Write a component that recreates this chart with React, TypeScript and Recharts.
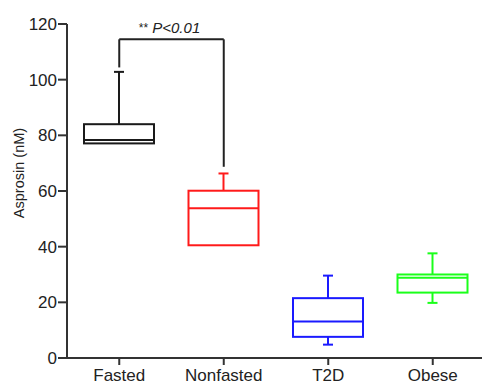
import { ComposedChart, Bar, XAxis, YAxis, ReferenceLine } from "recharts"

const groups = ["Fasted", "Nonfasted", "T2D", "Obese"]
const mins = [77.1, 40.5, 4.8, 19.8]
const q1s = [77.1, 40.5, 7.6, 23.5]
const medians = [78.3, 53.8, 13.1, 28.8]
const q3s = [84.0, 60.1, 21.5, 30.0]
const maxs = [102.8, 66.3, 29.6, 37.6]
const colors = ["#1a1a1a", "#ff1a1a", "#1a1aff", "#1aff1a"]
const yTicks = [0, 20, 40, 60, 80, 100, 120]

// significance bracket between Fasted and Nonfasted
const bracketTop = 114.5
const bracketLeftEnd = 104.4
const bracketRightEnd = 68.7
const sigStars = "**"
const sigText = "P<0.01"

const FONT = "'Liberation Sans', Arial, sans-serif"
const AXIS = "#333"

const data = groups.map((g, i) => ({
  name: g,
  min: mins[i],
  q1: q1s[i],
  median: medians[i],
  q3: q3s[i],
  max: maxs[i],
  color: colors[i],
  range: [mins[i], maxs[i]],
}))

function BoxShape(props: any) {
  const { x, y, width, height, payload } = props
  const top = Math.min(y, y + height)
  const h = Math.abs(height)
  const k = h / (payload.max - payload.min)
  const py = (v: number) => top + (payload.max - v) * k
  const cx = x + width / 2
  const cap = 5
  const c = payload.color
  return (
    <g stroke={c} strokeWidth={2} fill="none">
      <line x1={cx} x2={cx} y1={py(payload.max)} y2={py(payload.q3)} />
      <line x1={cx - cap} x2={cx + cap} y1={py(payload.max)} y2={py(payload.max)} />
      {payload.min < payload.q1 && (
        <>
          <line x1={cx} x2={cx} y1={py(payload.q1)} y2={py(payload.min)} />
          <line x1={cx - cap} x2={cx + cap} y1={py(payload.min)} y2={py(payload.min)} />
        </>
      )}
      <rect x={x} y={py(payload.q3)} width={width} height={py(payload.q1) - py(payload.q3)} />
      <line x1={x} x2={x + width} y1={py(payload.median)} y2={py(payload.median)} />
    </g>
  )
}

function SigLabel(props: any) {
  const vb = props.viewBox || {}
  const x1 = vb.x1 ?? vb.x
  const x2 = vb.x2 ?? vb.x + (vb.width || 0)
  const yy = vb.y1 ?? vb.y
  return (
    <text x={(x1 + x2) / 2 - 2} y={yy - 6} textAnchor="middle" fontFamily={FONT} fontSize={15} fill="#222">
      <tspan fontSize={12} dy={-1}>{sigStars}</tspan>
      <tspan dy={1}> </tspan>
      <tspan fontStyle="italic">{sigText}</tspan>
    </text>
  )
}

function YLabel(props: any) {
  const vb = props.viewBox || { x: 0, y: 24, width: 67, height: 334 }
  const cy = vb.y + vb.height / 2 - 18
  const bx = 23.5
  return (
    <text x={bx} y={cy} transform={`rotate(-90 ${bx} ${cy})`} textAnchor="middle" fontFamily={FONT} fontSize={14.5} fill="#222">
      Asprosin (nM)
    </text>
  )
}

export default function App() {
  return (
    <div style={{ position: "absolute", left: 0, top: 0, width: 482, height: 384, overflow: "hidden", background: "#fff" }}>
      <ComposedChart width={485} height={384} data={data} margin={{ top: 24, right: 0, bottom: 0, left: 0 }}>
        <XAxis
          dataKey="name"
          height={26}
          tickSize={7}
          tickMargin={4}
          interval={0}
          axisLine={{ stroke: AXIS, strokeWidth: 2 }}
          tickLine={{ stroke: AXIS, strokeWidth: 2 }}
          tick={{ fontSize: 17, fontFamily: FONT, fill: "#222" }}
        />
        <YAxis
          width={67}
          domain={[0, 120]}
          ticks={yTicks}
          interval={0}
          tickSize={9}
          tickMargin={1}
          axisLine={{ stroke: AXIS, strokeWidth: 2 }}
          tickLine={{ stroke: AXIS, strokeWidth: 2 }}
          tick={{ fontSize: 17, fontFamily: FONT, fill: "#222" }}
          label={<YLabel />}
        />
        <Bar dataKey="range" barSize={70} shape={<BoxShape />} isAnimationActive={false} />
        <ReferenceLine
          segment={[{ x: "Fasted", y: bracketLeftEnd }, { x: "Fasted", y: bracketTop }]}
          stroke="#222"
          strokeWidth={2}
        />
        <ReferenceLine
          segment={[{ x: "Nonfasted", y: bracketRightEnd }, { x: "Nonfasted", y: bracketTop }]}
          stroke="#222"
          strokeWidth={2}
        />
        <ReferenceLine
          segment={[{ x: "Fasted", y: bracketTop }, { x: "Nonfasted", y: bracketTop }]}
          stroke="#222"
          strokeWidth={2}
          label={<SigLabel />}
        />
      </ComposedChart>
    </div>
  )
}
